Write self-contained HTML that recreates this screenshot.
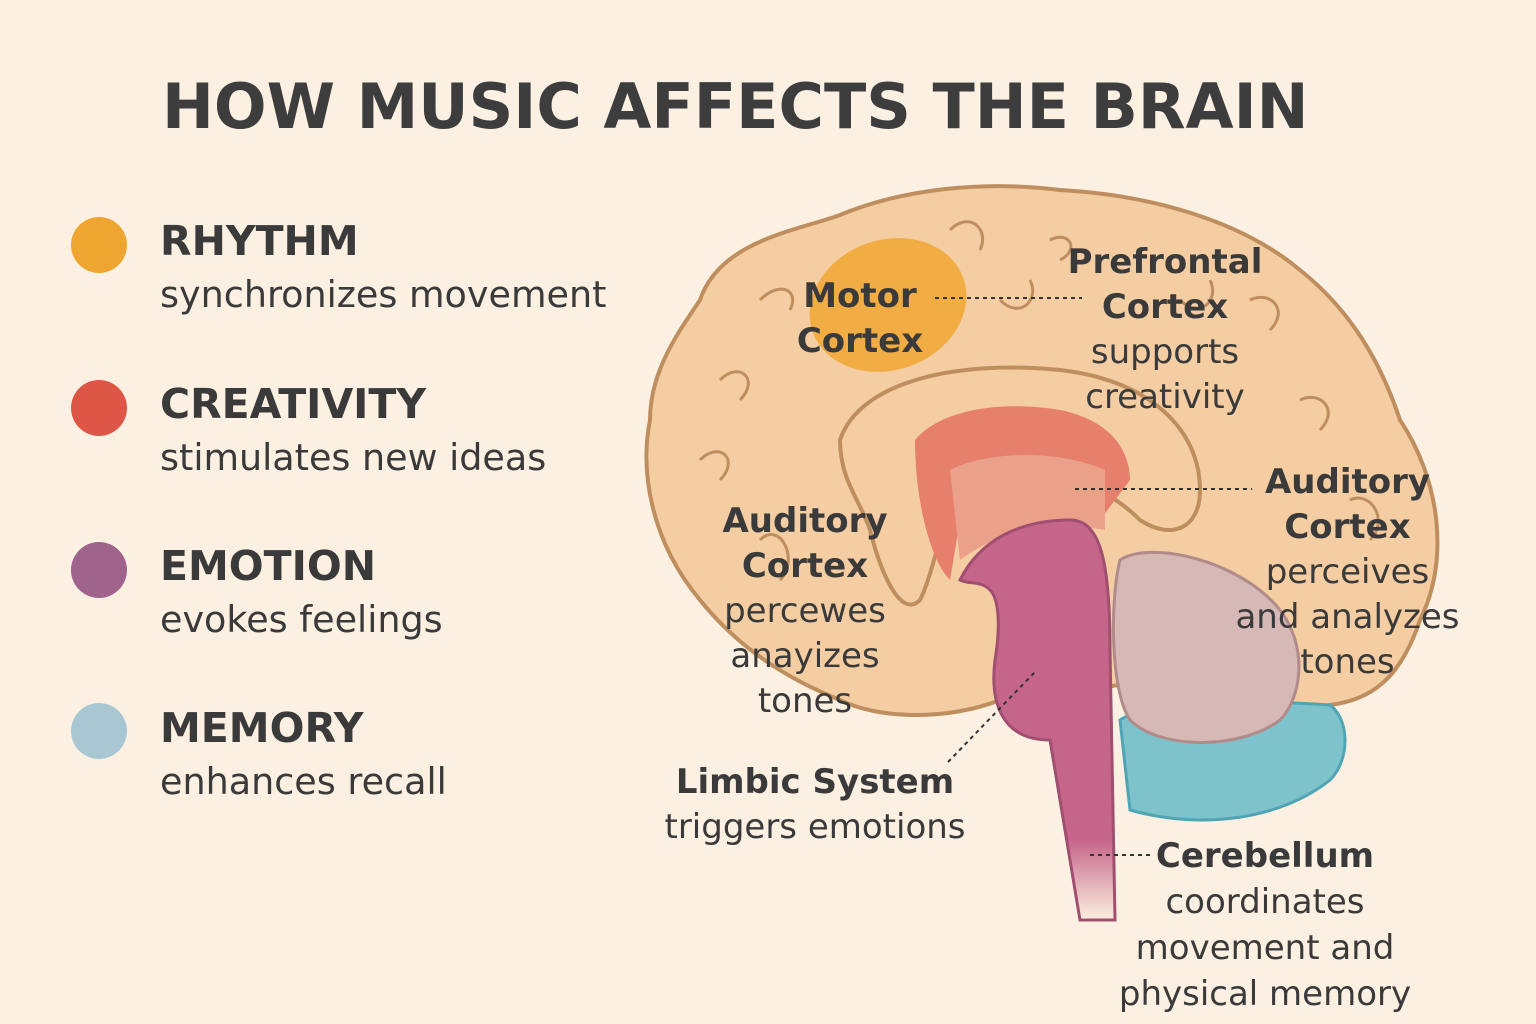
<!DOCTYPE html>
<html><head><meta charset="utf-8"><style>
body{margin:0;width:1536px;height:1024px;background:#fcf0e2;overflow:hidden;position:relative;font-family:"DejaVu Sans","Liberation Sans",sans-serif;color:#3a3a3a}
h1{position:absolute;left:162px;top:70px;margin:0;font-size:62px;font-weight:bold;letter-spacing:0;color:#3d3d3d;font-family:"DejaVu Sans",sans-serif;white-space:nowrap}
.dot{position:absolute;width:56px;height:56px;border-radius:50%}
.lh{position:absolute;left:160px;font-size:41px;font-weight:bold;white-space:nowrap}
.ld{position:absolute;left:160px;font-size:36.5px;white-space:nowrap}
.lab{position:absolute;text-align:center;font-size:34px;line-height:45px;white-space:nowrap}
.lab b{font-weight:bold}
</style></head><body>
<h1>HOW MUSIC AFFECTS THE BRAIN</h1>
<div class="dot" style="left:71px;top:217px;background:#efa631"></div>
<div class="dot" style="left:71px;top:380px;background:#de5646"></div>
<div class="dot" style="left:71px;top:542px;background:#a0648c"></div>
<div class="dot" style="left:71px;top:703px;background:#a9c7d3"></div>
<div class="lh" style="top:217px">RHYTHM</div><div class="ld" style="top:273px">synchronizes movement</div>
<div class="lh" style="top:380px">CREATIVITY</div><div class="ld" style="top:436px">stimulates new ideas</div>
<div class="lh" style="top:542px">EMOTION</div><div class="ld" style="top:598px">evokes feelings</div>
<div class="lh" style="top:704px">MEMORY</div><div class="ld" style="top:760px">enhances recall</div>
<svg width="1536" height="1024" style="position:absolute;left:0;top:0">
<defs><linearGradient id="fd" x1="0" y1="0" x2="0" y2="1"><stop offset="0.8" stop-color="#c6658a"/><stop offset="1" stop-color="#c6658a" stop-opacity="0"/></linearGradient></defs>
<path d="M700,300 C720,240 800,230 840,215 C900,190 980,180 1060,190 C1150,195 1240,220 1300,270 C1350,310 1380,360 1400,420 C1440,480 1450,560 1420,620 C1400,680 1370,700 1330,705 C1250,720 1200,700 1150,680 C1100,690 1050,690 1000,700 C950,720 880,720 840,700 C790,680 740,650 700,600 C650,540 640,470 650,420 C650,370 680,330 700,300 Z" fill="#f4cda3" stroke="#bf8e5e" stroke-width="4"/>
<path d="M1120,720 C1150,700 1250,700 1330,705 C1350,720 1350,760 1330,780 C1280,820 1200,830 1130,810 Z" fill="#7ec2cc" stroke="#4fa5b3" stroke-width="3"/>
<path d="M1120,560 C1150,540 1240,560 1280,610 C1310,650 1300,700 1280,720 C1240,750 1160,750 1130,720 C1110,690 1110,600 1120,560 Z" fill="#d6b8b6" stroke="#b08b8a" stroke-width="3"/>
<path d="M840,440 C860,380 960,360 1060,370 C1150,380 1200,430 1200,490 C1200,530 1170,540 1140,520 C1100,480 1050,470 990,480 C940,490 940,560 920,600 C900,620 880,570 870,530 C860,500 840,480 840,440 Z" fill="#f4cda3" stroke="#bf8e5e" stroke-width="4"/>
<path d="M915,440 C940,410 1000,400 1060,410 C1110,420 1130,450 1130,480 L1100,520 C1050,500 1000,500 960,520 L950,580 C930,560 915,500 915,440 Z" fill="#e67f6c"/>
<path d="M950,470 C990,450 1060,450 1105,470 L1105,530 C1050,520 1000,530 960,560 Z" fill="#eba08a"/>
<path d="M960,580 C980,540 1020,520 1070,520 C1100,520 1110,560 1110,650 L1115,920 L1080,920 C1070,860 1060,800 1050,740 C1000,740 990,700 995,660 C1000,630 1000,600 990,590 C980,580 970,585 960,580 Z" fill="url(#fd)" stroke="#a04f70" stroke-width="3"/>
<ellipse cx="888" cy="305" rx="80" ry="65" transform="rotate(-20 888 305)" fill="#f1aa38" opacity="0.9"/>
<g stroke="#bf8e5e" stroke-width="3" fill="none">
<path d="M760,300 C780,280 800,290 790,310"/><path d="M720,380 C740,360 760,380 740,400"/><path d="M700,460 C720,440 740,460 720,480"/>
<path d="M950,230 C970,210 990,230 980,250"/><path d="M1050,240 C1070,230 1080,250 1060,260"/><path d="M1250,300 C1270,290 1290,310 1270,330"/>
<path d="M1300,400 C1320,390 1340,410 1320,430"/><path d="M1350,500 C1370,490 1390,520 1370,540"/><path d="M760,540 C780,520 800,560 780,580"/>
<path d="M1180,300 C1200,320 1220,300 1210,280"/><path d="M1000,300 C1020,320 1040,300 1030,280"/>
</g>
<g stroke="#333" stroke-width="2" stroke-dasharray="4,4" fill="none">
<line x1="935" y1="298" x2="1082" y2="298"/><line x1="1075" y1="489" x2="1252" y2="489"/>
<line x1="948" y1="762" x2="1035" y2="672"/><line x1="1090" y1="855" x2="1150" y2="855"/>
</g>
</svg>
<div class="lab" style="left:790px;top:274px;width:140px"><b>Motor<br>Cortex</b></div>
<div class="lab" style="left:1060px;top:240px;width:210px"><b>Prefrontal<br>Cortex</b><br>supports<br>creativity</div>
<div class="lab" style="left:700px;top:499px;width:210px"><b>Auditory<br>Cortex</b><br>percewes<br>anayizes<br>tones</div>
<div class="lab" style="left:1225px;top:460px;width:245px"><b>Auditory<br>Cortex</b><br>perceives<br>and analyzes<br>tones</div>
<div class="lab" style="left:640px;top:760px;width:350px"><b>Limbic System</b><br>triggers emotions</div>
<div class="lab" style="left:1100px;top:833px;width:330px;line-height:46px"><b>Cerebellum</b><br>coordinates<br>movement and<br>physical memory</div>
</body></html>
